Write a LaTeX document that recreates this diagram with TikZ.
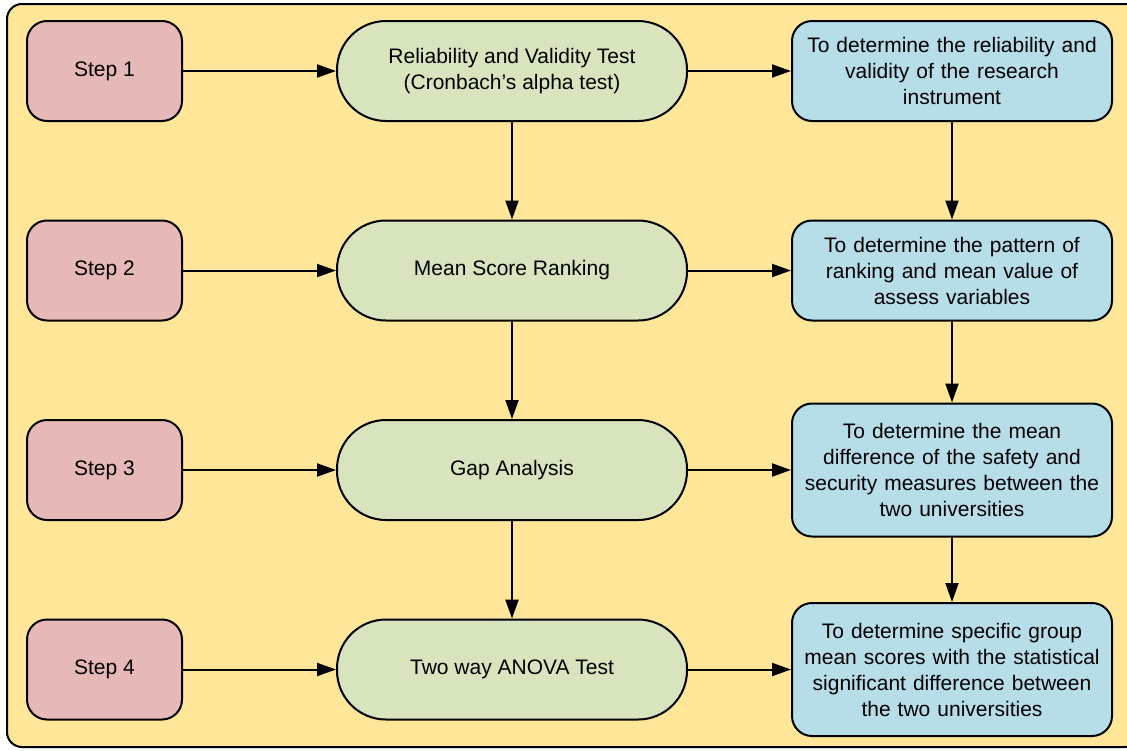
\documentclass[tikz,border=0pt]{standalone}
\usepackage{fontspec}
\setmainfont{Liberation Sans}
\usepackage{tikz}
\usetikzlibrary{positioning, arrows.meta}
\definecolor{bgyellow}{HTML}{FFE699}
\definecolor{steppink}{HTML}{E6B8B7}
\definecolor{testgreen}{HTML}{D7E4BD}
\definecolor{aimblue}{HTML}{B7DDE8}
\tikzstyle{stepbox} = [rectangle, rounded corners=20pt, minimum width=155pt, minimum height=100pt, text centered, draw=black, line width=2pt, fill=steppink]
\tikzstyle{test} = [rectangle, rounded corners=49pt, minimum width=350pt, minimum height=100pt, align=center, draw=black, line width=2pt, fill=testgreen]
\tikzstyle{aim} = [rectangle, rounded corners=20pt, minimum width=320pt, minimum height=100pt, text width=304pt, inner sep=8pt, align=center, draw=black, line width=2pt, fill=aimblue]
\tikzstyle{aim tall} = [aim, minimum height=133pt]
\tikzstyle{arrow} = [line width=2pt, -{Triangle[length=19pt, width=13pt]}]

\begin{document}
\begin{tikzpicture}[node distance=97.5pt, font=\fontsize{21}{26}\selectfont]
        \useasboundingbox (0,0) rectangle (1127pt,-750pt);
        \draw[fill=bgyellow, line width=2pt, rounded corners=15pt] (7pt,-4pt) rectangle (1140pt,-747pt);

        \node[stepbox] (step 1) at (104.5pt,-71pt) {Step 1};
        \node[stepbox, below=of step 1]              (step 2) {Step 2};
        \node[stepbox, below=of step 2]              (step 3) {Step 3};
        \node[stepbox, below=of step 3]              (step 4) {Step 4};

        \node[test, right=153pt of step 1]           (test 1) {Reliability and Validity Test\\(Cronbach’s alpha test)};
        \node[test, right=153pt of step 2]           (test 2) {Mean Score Ranking};
        \node[test, right=153pt of step 3]           (test 3) {Gap Analysis};
        \node[test, right=153pt of step 4]           (test 4) {Two way ANOVA Test};

        \node[aim, right=103pt of test 1]            (aim 1)  {To determine the reliability and\\validity of the research\\instrument};
        \node[aim, right=103pt of test 2]            (aim 2)  {To determine the pattern of\\ranking and mean value of\\assess variables};
        \node[aim tall, right=103pt of test 3]       (aim 3)  {To determine the mean\\difference of the safety and\\security measures between the\\two universities};
        \node[aim tall, right=103pt of test 4]       (aim 4)  {To determine specific group\\mean scores with the statistical\\significant difference between\\the two universities};

        \foreach \i in {1,...,4} {
            \draw[arrow] (step \i) -- (test \i);
            \draw[arrow] (test \i) -- (aim \i);
        }
        \draw[arrow] (test 1) -- (test 2);
        \draw[arrow] (test 2) -- (test 3);
        \draw[arrow] (test 3) -- (test 4);
        \draw[arrow] (aim 1)  -- (aim 2);
        \draw[arrow] (aim 2)  -- (aim 3);
        \draw[arrow] (aim 3)  -- (aim 4);
    \end{tikzpicture}
\end{document}
